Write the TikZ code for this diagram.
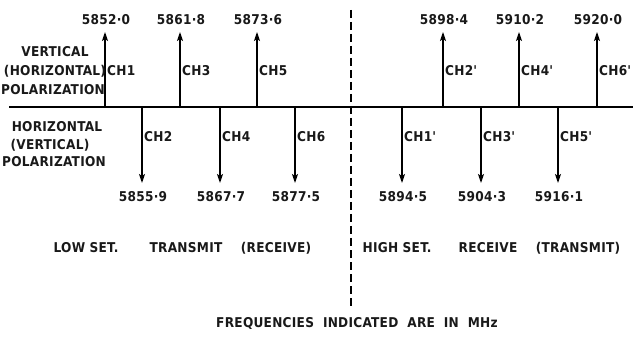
\documentclass[tikz,border=0pt]{standalone}
\usepackage{fontspec}
\setmainfont[LetterSpace=2]{DejaVu Sans Condensed Bold}
\usetikzlibrary{arrows.meta}
\begin{document}
\begin{tikzpicture}[x=1pt,y=-1pt,
  lbl/.style={font=\fontsize{13.5}{14}\selectfont, inner sep=0pt, text=black!90},
  sig/.style={line width=1.2pt, -{Stealth[length=9pt,width=6pt,inset=2pt]}},
  axisline/.style={line width=1.3pt},
  divider/.style={line width=1.3pt, dash pattern=on 8pt off 4pt}]
\useasboundingbox (0,0) rectangle (633,337);
% axis and divider
\coordinate (axL) at (9,107);
\coordinate (axR) at (633,107);
\draw[axisline] (axL) -- (axR);
\coordinate (dvT) at (351,10);
\coordinate (dvB) at (351,306);
\draw[divider] (dvT) -- (dvB);
% upward channels
\foreach \x/\f/\c/\n in {105/5852·0/CH1/u1, 180/5861·8/CH3/u2, 257/5873·6/CH5/u3,
                        443/5898·4/CH2\textquotesingle/u4, 519/5910·2/CH4\textquotesingle/u5, 597/5920·0/CH6\textquotesingle/u6}{
  \coordinate (\n b) at (\x,107);
  \coordinate (\n t) at (\x,32);
  \draw[sig] (\n b) -- (\n t);
  \node[lbl] (\n f) at (\x+1,20) {\f};
  \node[lbl, anchor=west] (\n c) at (\x+2,71) {\c};
}
% downward channels
\foreach \x/\f/\c/\n in {142/5855·9/CH2/d1, 220/5867·7/CH4/d2, 295/5877·5/CH6/d3,
                        402/5894·5/CH1\textquotesingle/d4, 481/5904·3/CH3\textquotesingle/d5, 558/5916·1/CH5\textquotesingle/d6}{
  \coordinate (\n b) at (\x,107);
  \coordinate (\n t) at (\x,183);
  \draw[sig] (\n b) -- (\n t);
  \node[lbl] (\n f) at (\x+1,197) {\f};
  \node[lbl, anchor=west] (\n c) at (\x+2,137) {\c};
}
% polarization labels
\node[lbl] (v1) at (55,52) {VERTICAL};
\node[lbl] (v2) at (55,71) {(HORIZONTAL)};
\node[lbl] (v3) at (53,90) {POLARIZATION};
\node[lbl] (h1) at (57,127) {HORIZONTAL};
\node[lbl] (h2) at (50,145) {(VERTICAL)};
\node[lbl] (h3) at (54,162) {POLARIZATION};
% set labels
\node[lbl] (s1) at (86,248) {LOW SET.};
\node[lbl] (s2) at (186,248) {TRANSMIT};
\node[lbl] (s3) at (276,248) {(RECEIVE)};
\node[lbl] (s4) at (397,248) {HIGH SET.};
\node[lbl] (s5) at (488,248) {RECEIVE};
\node[lbl] (s6) at (578,248) {(TRANSMIT)};
\node[lbl] (note) at (357,323) {FREQUENCIES\ \ INDICATED\ \ ARE\ \ IN\ \ MHz};
\end{tikzpicture}
\end{document}
